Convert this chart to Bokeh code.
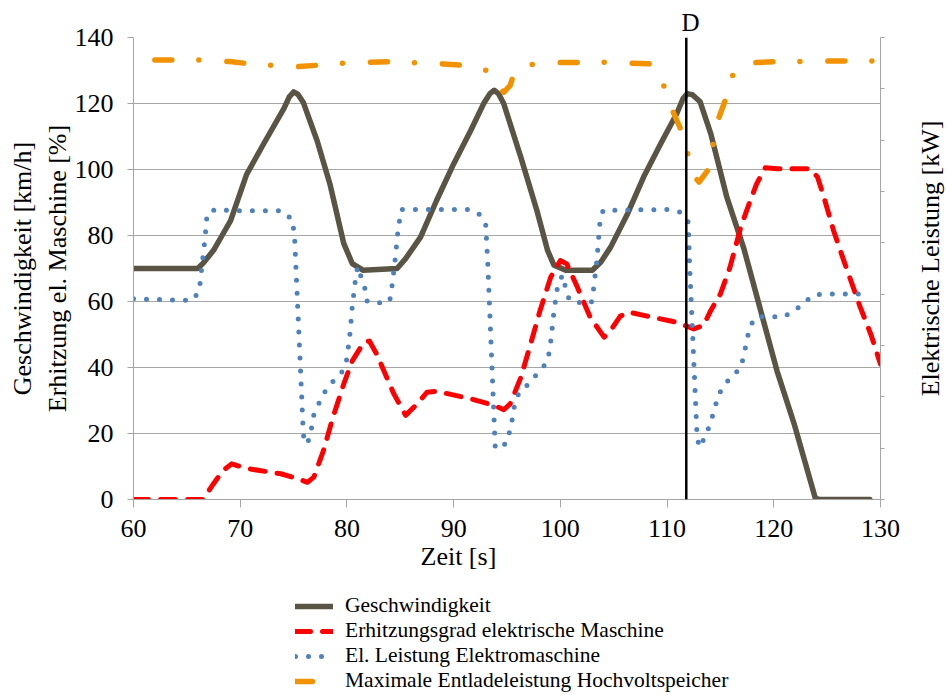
import math
from bokeh.plotting import figure
from bokeh.layouts import column, row
from bokeh.models import (Range1d, LinearAxis, SingleIntervalTicker, Span, Title, Label,
                          Legend, LegendItem)
from bokeh.embed import file_html
from bokeh.resources import INLINE

FONT = "Liberation Serif"

# ---- data ----
speed_t = [60, 66, 66.5, 67.5, 68.3, 69.1, 70.6, 72.2, 74.1, 74.6, 75, 75.4, 75.9, 77.2, 78.4,
           79.7, 80.5, 81.5, 84.7, 85.5, 86.9, 88.4, 90, 91.6, 92.8, 93.4, 93.8, 94.2, 94.7,
           96.3, 97.8, 98.8, 99.4, 100.5, 103, 103.8, 104.7, 106.3, 107.8, 109.4, 110.9,
           111.5, 111.9, 112.4, 113.1, 114.1, 115.6, 117.2, 120.3, 121.9, 123.9, 124.3, 129]
speed_v = [70, 70, 71.5, 75.5, 80, 84.5, 98.5, 107.8, 118.5, 122, 123.5, 122.8, 120.4, 108.8, 95.7,
           77.6, 71.5, 69.5, 70, 73, 79.5, 90.6, 101.7, 111.8, 119.9, 123, 124, 123, 119.9,
           103.7, 87.6, 75.5, 71, 69.5, 69.5, 72, 76.4, 86.6, 97.7, 107.8, 116.9,
           121.5, 123, 122.6, 120.5, 110.8, 91.6, 76, 39, 23, 0.3, 0, 0]

heat_t = [60, 66.5, 67.5, 68.4, 69.2, 70.6, 73.8, 75.3, 76.3, 76.9, 77.8, 78.7, 79.7, 80.5,
          81.6, 82.1, 82.8, 84.4, 85.5, 86.6, 87.5, 88.4, 91.6, 93.8, 94.7, 95.3, 96.3, 97.2,
          98.1, 99.1, 100, 100.6, 101.6, 102.8, 104.1, 104.7, 105.6, 106.4, 107.8, 110.9,
          112.5, 113.4, 114.1, 115, 115.9, 116.9, 117.8, 118.4, 119.2, 120.3, 123.4, 124.1,
          124.7, 125.6, 126.6, 128.1, 129.1, 130]
heat_v = [0, 0, 4.8, 8.8, 10.8, 9.4, 7.8, 6.4, 5.2, 6.8, 14.8, 25, 35, 42,
          47.7, 48, 44, 32, 25.5, 29, 32.5, 32.8, 30.5, 28.5, 27.2, 29, 37, 47,
          57.3, 67.4, 72.4, 71.4, 64.3, 55.2, 49.2, 51.2, 55.5, 56.8, 55.8, 53.7,
          51.7, 52.7, 57.3, 62.3, 70.4, 82.5, 90.6, 95.7, 100.5, 100.2, 100.2, 97.7,
          91.6, 81.5, 72, 58.3, 50, 41]

power_t = [60, 65.5, 66.1, 66.3, 66.4, 66.6, 66.8, 66.9, 67.8, 69.1, 73.9, 74.9, 75.1, 75.2,
           75.9, 76.0, 76.4, 76.7, 76.9, 77.4, 78.0, 78.75, 79.6, 80.0, 80.3, 80.5, 80.8,
           81.0, 81.7, 81.9, 83.0, 84.0, 84.2, 84.5, 84.8, 85.1, 91.25, 92.3, 93.0, 93.2,
           93.9, 94.9, 95.25, 95.5, 95.7, 96.1, 97.0, 97.8, 98.6, 99.0, 99.4, 99.75, 100.2,
           100.5, 100.85, 101.9, 102.9, 103.1, 103.4, 103.7, 104.0, 110.1, 111.2, 112.0,
           112.1, 112.8, 113.0, 113.6, 114.0, 114.4, 114.7, 115.2, 116.0, 116.9, 117.2,
           117.7, 118.2, 119.4, 120.7, 121.8, 122.8, 123.7, 124.9, 128.7]
power_v = [60.8, 60.3, 62.8, 66.7, 70.7, 76, 82.7, 86.8, 88, 87.5, 87.5, 84.8, 79, 72,
           20.9, 16.9, 17.9, 21.9, 25.7, 29.3, 33, 36, 38.9, 42.6, 50.7, 58.6, 66.6,
           70.6, 63.8, 60, 59.6, 60, 64, 72.1, 82, 87.9, 87.9, 86.9, 83.5, 71.6,
           15.4, 16.9, 20.6, 24.4, 28.5, 32.2, 35, 38, 41, 44.9, 57, 64.8, 68,
           64, 60.3, 59.6, 59.6, 63.6, 71.7, 83.5, 87.6, 87.9, 87.1, 84,
           72, 19.9, 15.8, 19.1, 22.7, 26.7, 30.5, 34.2, 37, 39.9, 43.8,
           51.7, 55, 55.6, 55.2, 56.8, 59.5, 62, 62.3, 62.3]

maxdis_t = [62, 66, 69, 71, 73.2, 75.5, 77.7, 80, 84, 86.8, 89, 91.3, 93.35, 94.3, 94.7,
            95.3, 95.6, 96.3, 97.35, 100, 104, 108.4, 109.6, 110.4, 111.2, 111.9, 112.5,
            113, 113.8, 114.3, 114.75, 115.5, 116.1, 117, 117.8, 120, 122, 126, 129.3]
maxdis_v = [133.2, 133.2, 132.7, 132.0, 131.5, 131.2, 131.7, 132.3, 132.7, 132.3, 132, 131.5,
            129.8, 125, 123.4, 125.5, 128.5, 131, 131.8, 132.4, 132.5, 132, 126.2, 118.7,
            112.8, 105.2, 98, 96.2, 99.7, 107.3, 114.8, 121.4, 128.3, 131.5, 132.3, 132.7,
            132.7, 132.9, 132.9]

D_TIME = 111.8
D_TEXT = "D"

x_ticks_interval = 10
y_ticks_interval = 20

series_labels = ["Geschwindigkeit",
                 "Erhitzungsgrad elektrische Maschine",
                 "El. Leistung Elektromaschine",
                 "Maximale Entladeleistung Hochvoltspeicher"]
right_axis_title = "Elektrische Leistung [kW]"

GRID = "#A6A6A6"
styles = [dict(line_color="#595443", line_width=5.5, line_join="round", line_cap="round"),
          dict(line_color="#FF0000", line_width=5, line_dash="15 12", line_join="round",
               line_cap="round"),
          dict(line_color="#4F81BD", line_width=5, line_dash="0 13", line_join="round",
               line_cap="round"),
          dict(line_color="#F39200", line_width=5.5, line_dash="17 27 0 28",
               line_join="round", line_cap="round")]

# ---- main chart ----
p = figure(width=905, height=575, x_range=Range1d(60, 130), y_range=Range1d(0, 140),
           output_backend="svg", toolbar_location=None,
           min_border_left=133, min_border_right=25, min_border_top=37, min_border_bottom=76)
p.outline_line_color = None
p.background_fill_color = "white"
p.border_fill_color = "white"

# "D" marker text as the (left aligned, offset) title above the frame
p.title.text = D_TEXT
p.title.align = "left"
p.title.offset = 548
p.title.text_font = FONT
p.title.text_font_size = "25px"
p.title.text_font_style = "normal"
p.title.text_color = "black"
p.title.standoff = 4

p.xaxis.ticker = SingleIntervalTicker(interval=x_ticks_interval)
p.yaxis.ticker = SingleIntervalTicker(interval=y_ticks_interval)
p.xgrid.visible = False
p.ygrid.grid_line_color = GRID
p.ygrid.grid_line_width = 1

for ax in [p.xaxis[0], p.yaxis[0]]:
    ax.axis_line_color = GRID
    ax.major_tick_line_color = GRID
    ax.minor_tick_line_color = None
    ax.major_tick_in = 0
    ax.major_label_text_font = FONT
    ax.major_label_text_font_size = "26px"
    ax.major_label_text_color = "black"
    ax.axis_label_text_font = FONT
    ax.axis_label_text_font_size = "26px"
    ax.axis_label_text_font_style = "normal"
    ax.axis_label_text_color = "black"

p.xaxis.major_tick_out = 8
p.xaxis.major_label_standoff = 12
p.yaxis.major_tick_out = 6
p.yaxis.major_label_standoff = 14
p.yaxis.axis_label = "Geschwindigkeit [km/h]\nErhitzung el. Maschine [%]"
p.yaxis.axis_label_standoff = 0

p.extra_y_ranges = {"right": Range1d(0, 9)}
rax = LinearAxis(y_range_name="right", ticker=SingleIntervalTicker(interval=1))
rax.axis_line_color = GRID
rax.major_tick_line_color = GRID
rax.minor_tick_line_color = None
rax.major_tick_in = 0
rax.major_tick_out = 4
rax.major_label_overrides = {i: "" for i in range(10)}
p.add_layout(rax, "right")

r_speed = p.line(speed_t, speed_v, **styles[0])
r_heat = p.line(heat_t, heat_v, **styles[1])
r_power = p.line(power_t, power_v, **styles[2])
r_maxdis = p.line(maxdis_t, maxdis_v, **styles[3])

p.add_layout(Span(location=D_TIME, dimension="height", line_color="black", line_width=2.5))

# x-axis title, placed left of centre like in the reference
p.add_layout(Title(text="Zeit [s]", align="left", offset=287, text_font=FONT,
                   text_font_size="26px", text_font_style="normal", text_color="black",
                   standoff=0), "below")

# ---- narrow strip carrying the right axis title (reads bottom to top) ----
rt = figure(width=41, height=575, x_range=Range1d(0, 41), y_range=Range1d(0, 575),
            output_backend="svg", toolbar_location=None,
            x_axis_location=None, y_axis_location=None,
            min_border_left=0, min_border_right=0, min_border_top=0, min_border_bottom=0)
rt.grid.visible = False
rt.outline_line_color = None
rt.background_fill_color = "white"
rt.border_fill_color = "white"
rt.add_layout(Label(x=25, y=300, text=right_axis_title, angle=math.pi / 2,
                    text_align="center", text_baseline="middle", text_font=FONT,
                    text_font_size="26px", text_color="black"))

# ---- legend in its own strip below the chart ----
q = figure(width=946, height=120, x_range=Range1d(0, 1), y_range=Range1d(0, 1),
           output_backend="svg", toolbar_location=None,
           x_axis_location=None, y_axis_location=None,
           min_border_left=0, min_border_right=0, min_border_top=0, min_border_bottom=0)
q.grid.visible = False
q.outline_line_color = None
q.background_fill_color = "white"
q.border_fill_color = "white"
# legend-only renderers: their points lie outside the strip's ranges, so only the key shows
l_rs = [q.line([2, 3], [2, 3], **s) for s in styles]

lg = Legend(items=[LegendItem(label=lab, renderers=[r]) for lab, r in zip(series_labels, l_rs)],
            location=(295, 2))
lg.background_fill_alpha = 0
lg.border_line_color = None
lg.label_text_font = FONT
lg.label_text_font_size = "21.5px"
lg.label_text_color = "black"
lg.glyph_width = 38
lg.glyph_height = 20
lg.label_height = 20
lg.label_standoff = 12
lg.spacing = 0
lg.padding = 5
lg.margin = 0
q.add_layout(lg)

layout = column(row(p, rt, spacing=0), q, spacing=0)
open("out.html", "w").write(file_html(layout, INLINE))
